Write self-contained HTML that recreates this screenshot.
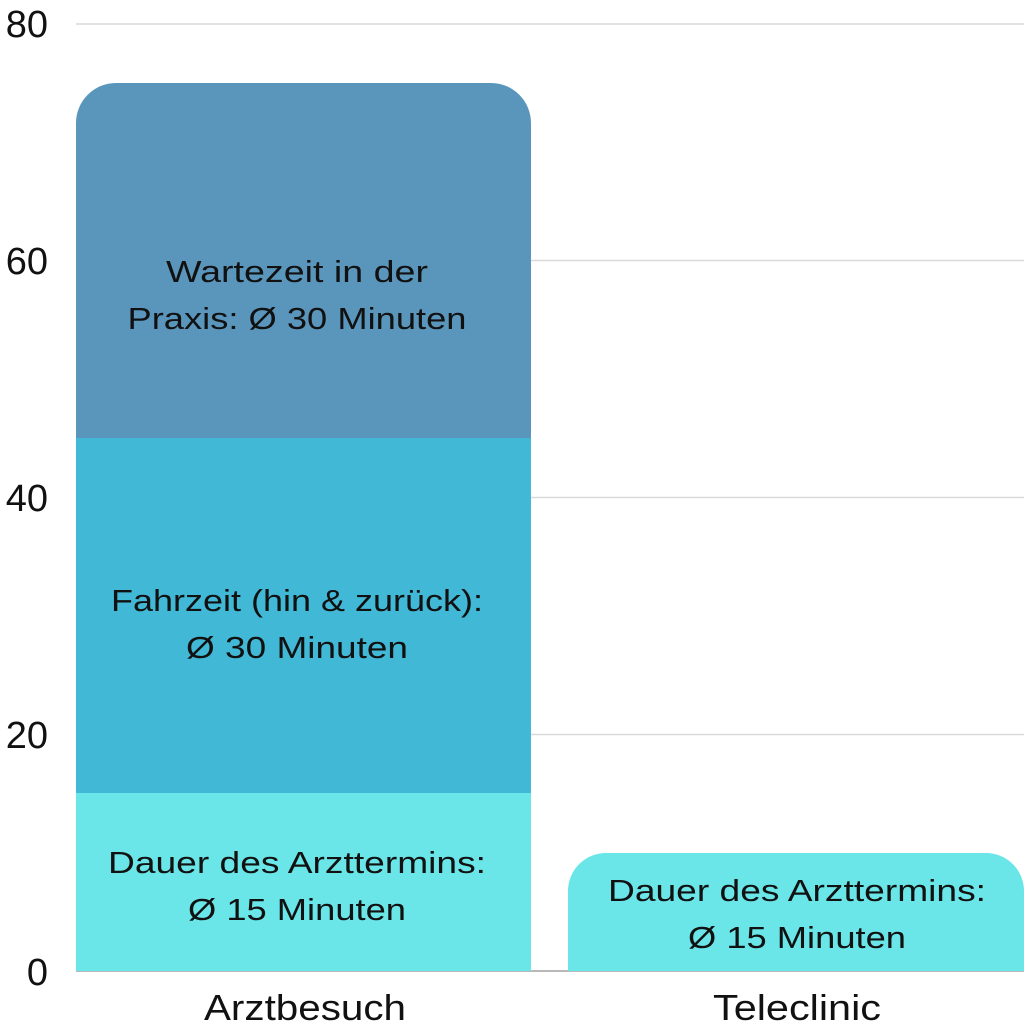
<!DOCTYPE html>
<html><head><meta charset="utf-8"><style>html,body{margin:0;padding:0;background:#fff}svg{display:block}</style></head><body>
<svg width="1024" height="1024" viewBox="0 0 1024 1024" xmlns="http://www.w3.org/2000/svg" font-family="Liberation Sans, sans-serif">
<g stroke="#d9d9d9" stroke-width="1.5">
<line x1="76" y1="24" x2="1024" y2="24"/>
<line x1="76" y1="260.5" x2="1024" y2="260.5"/>
<line x1="76" y1="497.5" x2="1024" y2="497.5"/>
<line x1="76" y1="734.5" x2="1024" y2="734.5"/>
</g>
<line x1="76" y1="971" x2="1024" y2="971" stroke="#a0a0a0" stroke-width="1.5"/>
<g font-size="38" fill="#111" text-anchor="end">
<text x="48" y="37">80</text>
<text x="48" y="274">60</text>
<text x="48" y="511">40</text>
<text x="48" y="748">20</text>
<text x="48" y="985">0</text>
</g>
<path d="M76 438 V123 A40 40 0 0 1 116 83 H491 A40 40 0 0 1 531 123 V438 Z" fill="#5a96bc"/>
<rect x="76" y="438" width="455" height="356" fill="#42b8d7"/>
<rect x="76" y="793" width="455" height="178" fill="#6ae5e8"/>
<path d="M568 971 V891 A38 38 0 0 1 606 853 H986 A38 38 0 0 1 1024 891 V971 Z" fill="#6ae5e8"/>
<g font-size="31" fill="#111" text-anchor="middle">
<text x="297" y="282" textLength="262" lengthAdjust="spacingAndGlyphs">Wartezeit in der</text>
<text x="297" y="329" textLength="339" lengthAdjust="spacingAndGlyphs">Praxis: Ø 30 Minuten</text>
<text x="297" y="611" textLength="372" lengthAdjust="spacingAndGlyphs">Fahrzeit (hin &amp; zurück):</text>
<text x="297" y="658" textLength="222" lengthAdjust="spacingAndGlyphs">Ø 30 Minuten</text>
<text x="297" y="873" textLength="378" lengthAdjust="spacingAndGlyphs">Dauer des Arzttermins:</text>
<text x="297" y="920" textLength="218" lengthAdjust="spacingAndGlyphs">Ø 15 Minuten</text>
<text x="797" y="901" textLength="378" lengthAdjust="spacingAndGlyphs">Dauer des Arzttermins:</text>
<text x="797" y="948" textLength="218" lengthAdjust="spacingAndGlyphs">Ø 15 Minuten</text>
</g>
<g font-size="36" fill="#111" text-anchor="middle">
<text x="305" y="1020" textLength="202" lengthAdjust="spacingAndGlyphs">Arztbesuch</text>
<text x="797" y="1020" textLength="168" lengthAdjust="spacingAndGlyphs">Teleclinic</text>
</g>
</svg>
</body></html>
